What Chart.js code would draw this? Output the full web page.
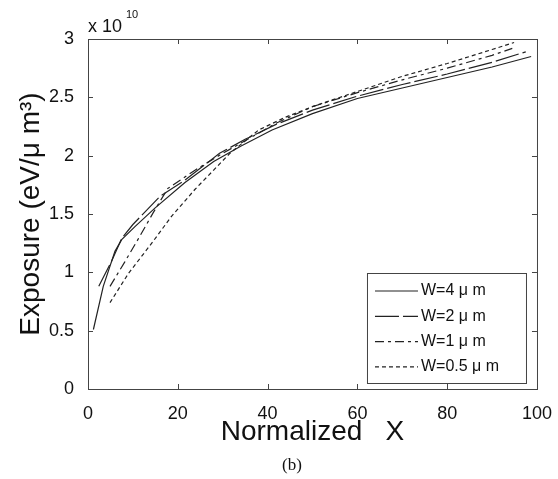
<!DOCTYPE html>
<html>
<head>
<meta charset="utf-8">
<script src="https://cdn.jsdelivr.net/npm/chart.js@4.4.1/dist/chart.umd.min.js"></script>
<style>
html, body { margin: 0; padding: 0; background: #fff; }
#wrap { width: 558px; height: 479px; position: relative; }
</style>
</head>
<body>
<div id="wrap"><canvas id="myChart"></canvas></div>
<script>
// axis ticks
const xTicks = [0, 20, 40, 60, 80, 100];
const yTicks = [0, 0.5, 1, 1.5, 2, 2.5, 3];

// series (y in units of 1e10 eV/um^3)
const names = ['W=4 \u03bc m', 'W=2 \u03bc m', 'W=1 \u03bc m', 'W=0.5 \u03bc m'];
const dashes = [[], [24, 4], [9, 4, 3, 4], [4, 3]];

const xW4 = [1.2, 3.4, 6, 7.5, 10.4, 14.9, 21.6, 28, 34, 41, 50, 60, 70, 80, 90, 98.7];
const yW4 = [0.51, 0.88, 1.18, 1.28, 1.39, 1.55, 1.77, 1.95, 2.08, 2.22, 2.36, 2.49, 2.58, 2.67, 2.76, 2.85];

const xW2 = [2.4, 5.3, 7.5, 10, 16, 21.6, 29.3, 35, 42, 50, 60, 70, 80, 90, 97.5];
const yW2 = [0.88, 1.10, 1.29, 1.41, 1.65, 1.79, 2.02, 2.14, 2.27, 2.39, 2.51, 2.61, 2.70, 2.80, 2.89];

const xW1 = [4.9, 8.2, 11.1, 14.5, 17.8, 24, 30, 36, 42, 50, 60, 70, 80, 90, 94.5];
const yW1 = [0.88, 1.09, 1.28, 1.51, 1.72, 1.88, 2.02, 2.15, 2.28, 2.42, 2.54, 2.65, 2.75, 2.86, 2.92];

const xW05 = [4.9, 9, 14.2, 18.6, 23.8, 31.6, 38, 44, 50, 60, 70, 80, 90, 94.9];
const yW05 = [0.74, 0.99, 1.25, 1.48, 1.71, 2.02, 2.22, 2.33, 2.42, 2.55, 2.68, 2.79, 2.91, 2.97];

const xs = [xW4, xW2, xW1, xW05];
const ys = [yW4, yW2, yW1, yW05];

const sans = 'Liberation Sans, Arial, sans-serif';

// box round the plot, ticks pointing inward, legend, exponent, caption
const frameTicks = {
    id: 'frameTicks',
    afterDraw(c) {
        const { ctx, chartArea: a, scales: { x, y } } = c;
        ctx.save();
        ctx.strokeStyle = '#444';
        ctx.lineWidth = 1;
        ctx.strokeRect(a.left + 0.5, a.top + 0.5, a.right - a.left, a.bottom - a.top);
        ctx.beginPath();
        xTicks.forEach(v => {
            const px = Math.round(x.getPixelForValue(v)) + 0.5;
            ctx.moveTo(px, a.bottom); ctx.lineTo(px, a.bottom - 5);
            ctx.moveTo(px, a.top); ctx.lineTo(px, a.top + 5);
        });
        yTicks.forEach(v => {
            const py = Math.round(y.getPixelForValue(v)) + 0.5;
            ctx.moveTo(a.left, py); ctx.lineTo(a.left + 5, py);
            ctx.moveTo(a.right, py); ctx.lineTo(a.right - 5, py);
        });
        ctx.stroke();

        // exponent
        ctx.fillStyle = '#111';
        ctx.textBaseline = 'alphabetic';
        ctx.font = '18px ' + sans;
        ctx.fillText('x 10', a.left, a.top - 7);
        ctx.font = '11px ' + sans;
        ctx.fillText('10', a.left + 38, a.top - 21);

        // caption
        ctx.font = '17px Liberation Serif, Times New Roman, serif';
        ctx.textAlign = 'center';
        ctx.textBaseline = 'middle';
        ctx.fillText('(b)', 292, 466);
        ctx.textAlign = 'left';

        // legend
        const lx = a.right - 170, ly = a.bottom - 116, lw = 159, lh = 110;
        ctx.fillStyle = '#fff';
        ctx.fillRect(lx, ly, lw, lh);
        ctx.strokeStyle = '#444';
        ctx.strokeRect(lx + 0.5, ly + 0.5, lw, lh);
        ctx.font = '16px ' + sans;
        c.data.datasets.forEach((ds, i) => {
            const ry = ly + 18 + i * 25.3;
            ctx.strokeStyle = '#222';
            ctx.lineWidth = 1.2;
            ctx.setLineDash(ds.borderDash);
            ctx.beginPath();
            ctx.moveTo(lx + 8, ry); ctx.lineTo(lx + 51, ry);
            ctx.stroke();
            ctx.setLineDash([]);
            ctx.fillStyle = '#111';
            ctx.fillText(ds.label, lx + 54, ry);
        });
        ctx.restore();
    }
};

new Chart(document.getElementById('myChart'), {
    type: 'line',
    data: {
        datasets: names.map((n, i) => ({
            label: n,
            data: xs[i].map((v, j) => ({ x: v, y: ys[i][j] })),
            borderColor: '#222',
            borderWidth: 1.2,
            borderDash: dashes[i],
            pointRadius: 0,
            fill: false,
            tension: 0
        }))
    },
    options: {
        responsive: true,
        maintainAspectRatio: false,
        animation: false,
        layout: { padding: { top: 39, right: 19, left: 0, bottom: 24 } },
        plugins: {
            legend: { display: false },
            tooltip: { enabled: false }
        },
        scales: {
            x: {
                type: 'linear',
                min: 0,
                max: 100,
                afterFit: s => { s.height = 66; },
                afterBuildTicks: s => { s.ticks = xTicks.map(v => ({ value: v })); },
                grid: { display: false },
                border: { display: false },
                ticks: { padding: 6, color: '#111', maxRotation: 0, font: { family: sans, size: 18 } },
                title: {
                    display: true,
                    text: 'Normalized   X',
                    color: '#111',
                    font: { family: sans, size: 28 },
                    padding: { top: 0, bottom: 6 }
                }
            },
            y: {
                min: 0,
                max: 3,
                afterFit: s => { s.width = 88; },
                afterBuildTicks: s => { s.ticks = yTicks.map(v => ({ value: v })); },
                grid: { display: false },
                border: { display: false },
                ticks: { padding: 6, color: '#111', font: { family: sans, size: 18 }, callback: v => String(v) },
                title: {
                    display: true,
                    text: 'Exposure (eV/\u03bc m\u00b3)',
                    color: '#111',
                    font: { family: sans, size: 28 },
                    padding: { top: 14, bottom: 0 }
                }
            }
        }
    },
    plugins: [frameTicks]
});
</script>
</body>
</html>
